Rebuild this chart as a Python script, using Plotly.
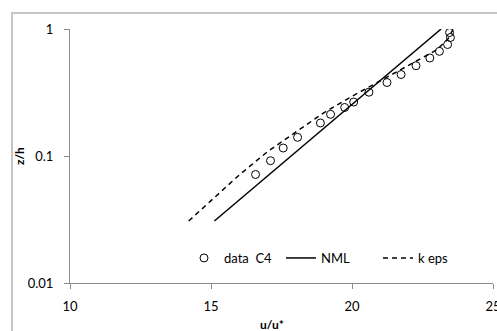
import plotly.graph_objects as go

# measured data C4
data_u = [16.58, 17.11, 17.56, 18.07, 18.88, 19.24, 19.74, 20.06, 20.60, 21.24,
          21.74, 22.27, 22.76, 23.10, 23.39, 23.49, 23.46]
data_z = [0.0715, 0.0918, 0.1156, 0.1403, 0.182, 0.213, 0.241, 0.266, 0.318, 0.379,
          0.438, 0.514, 0.591, 0.667, 0.755, 0.857, 0.938]

# NML model
nml_u = [15.12, 17.0, 19.0, 21.0, 23.16]
nml_z = [0.0308, 0.0695, 0.165, 0.393, 1.0]

# k-eps model
keps_u = [14.21, 15.0, 16.0, 17.0, 18.0, 19.0, 20.0, 21.0, 22.0, 23.0, 23.4, 23.59]
keps_z = [0.0308, 0.0447, 0.0708, 0.108, 0.155, 0.219, 0.295, 0.389, 0.513, 0.684, 0.832, 1.0]

x_ticks = [10, 15, 20, 25]
y_ticks = [0.01, 0.1, 1]
y_ticktext = ["0.01", "0.1", "1"]

W, H = 497, 331
L, R, T, B = 70, 4, 29, 48
pw, ph = W - L - R, H - T - B

font = "Lato, Calibri, Carlito, sans-serif"

fig = go.Figure()
fig.add_trace(go.Scatter(x=data_u, y=data_z, mode="markers", name="data  C4",
                         marker=dict(symbol="circle-open", size=8, color="black",
                                     line=dict(width=1, color="black"))))
fig.add_trace(go.Scatter(x=nml_u, y=nml_z, mode="lines", name="NML",
                         line=dict(color="black", width=1.5)))
fig.add_trace(go.Scatter(x=keps_u, y=keps_z, mode="lines", name="k eps",
                         line=dict(color="black", width=1.5, dash="5px,4px")))

axis_col = "#8c8c8c"
fig.update_layout(
    width=W, height=H,
    margin=dict(l=L, r=R, t=T, b=B, autoexpand=False),
    paper_bgcolor="white", plot_bgcolor="white",
    font=dict(family=font, size=13, color="black"),
    showlegend=True,
    legend=dict(orientation="h", x=(184 - L) / pw, y=(283 - 258) / ph,
                xanchor="left", yanchor="middle", bgcolor="rgba(0,0,0,0)",
                font=dict(size=13), entrywidth=52, entrywidthmode="pixels"),
    xaxis=dict(range=[10, 25], tickvals=x_ticks, showgrid=False, zeroline=False,
               showline=True, linecolor=axis_col, linewidth=1, ticks="outside",
               ticklen=5, tickcolor=axis_col, ticklabelstandoff=6, automargin=False,
               ticklabeloverflow="allow"),
    yaxis=dict(type="log", range=[-2, 0], tickvals=y_ticks, ticktext=y_ticktext,
               showgrid=False, zeroline=False, showline=True, linecolor=axis_col,
               linewidth=1, ticks="outside", ticklen=5, tickcolor=axis_col,
               ticklabelstandoff=8, automargin=False, ticklabeloverflow="allow"),
    shapes=[dict(type="rect", xref="paper", yref="paper",
                 x0=(12 - L) / pw, x1=(520 - L) / pw,
                 y0=(283 - 360) / ph, y1=(283 - 13) / ph,
                 line=dict(color="#c6c6c6", width=2), layer="below")],
    annotations=[
        dict(text="<b>u/u*</b>", xref="paper", yref="paper",
             x=(271.5 - L) / pw, y=(283 - 324) / ph, xanchor="center", yanchor="middle",
             showarrow=False, font=dict(size=12)),
        dict(text="<b>z/h</b>", xref="paper", yref="paper",
             x=(19 - L) / pw, y=(283 - 156) / ph, xanchor="center", yanchor="middle",
             textangle=-90, showarrow=False, font=dict(size=12)),
    ],
)
fig.write_html("out.html", config={"displayModeBar": False},
               post_script="document.body.style.margin='0';document.body.style.overflow='hidden';")
